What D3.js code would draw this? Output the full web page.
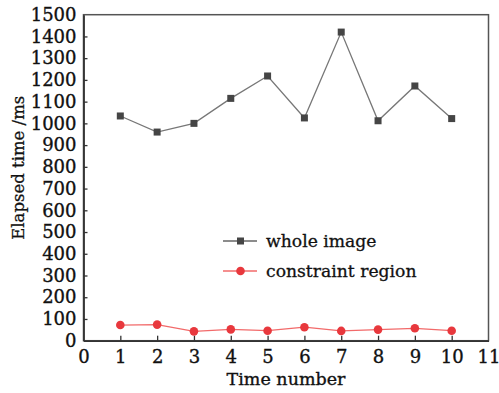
<!DOCTYPE html>
<html><head><meta charset="utf-8">
<script src="https://cdn.jsdelivr.net/npm/d3@7"></script>
<style>body{margin:0;background:#fff}svg{display:block}</style>
</head><body>
<script>
const timeNumbers = [1,2,3,4,5,6,7,8,9,10];
const wholeImage = [1034,960,1000,1115,1218,1025,1420,1012,1172,1022];
const constraintRegion = [72,74,43,52,46,62,45,51,57,46];
const xTicks = [0,1,2,3,4,5,6,7,8,9,10,11];
const yTicks = [0,100,200,300,400,500,600,700,800,900,1000,1100,1200,1300,1400,1500];
const seriesNames = ["whole image","constraint region"];

const W=499,H=393;
const m={l:83.5,t:14.7,r:W-488.5,b:H-340.7};
const svg=d3.select("body").append("svg").attr("width",W).attr("height",H);
const x=d3.scaleLinear().domain([0,11]).range([m.l,W-m.r]);
const y=d3.scaleLinear().domain([0,1500]).range([H-m.b,m.t]);
const font="'DejaVu Serif', serif";
const axisCol="#333";
const txt="#111";

// frame
svg.append("rect").attr("x",x(0)).attr("y",y(1500)).attr("width",x(11)-x(0)).attr("height",y(0)-y(1500))
  .attr("fill","none").attr("stroke","#555").attr("stroke-width",1.5);

const xAxis=svg.append("g").attr("transform",`translate(0,${y(0)})`)
  .call(d3.axisBottom(x).tickValues(xTicks).tickSizeInner(-5).tickSizeOuter(0).tickPadding(10).tickFormat(d3.format("d")));
const yAxis=svg.append("g").attr("transform",`translate(${x(0)},0)`)
  .call(d3.axisLeft(y).tickValues(yTicks).tickSizeInner(-4).tickSizeOuter(0).tickPadding(7).tickFormat(d3.format("d")));
[xAxis,yAxis].forEach(g=>{
  g.select(".domain").attr("stroke",axisCol).attr("stroke-width",1.8);
  g.selectAll(".tick line").attr("stroke",axisCol).attr("stroke-width",1.3);
  g.selectAll("text").attr("font-family",font).attr("font-size",18).attr("fill",txt)
    .attr("stroke",txt).attr("stroke-width",0.35);
});
xAxis.selectAll(".tick").filter(d=>d===0||d===11).select("line").remove();
yAxis.selectAll(".tick").filter(d=>d===0||d===1500).select("line").remove();

// axis titles
svg.append("text").attr("x",(x(0)+x(11))/2).attr("y",385).attr("text-anchor","middle")
  .attr("font-family",font).attr("font-size",17.5).attr("fill",txt).attr("stroke",txt).attr("stroke-width",0.35).text("Time number");
svg.append("text").attr("transform",`translate(24,${(y(0)+y(1500))/2-10}) rotate(-90)`).attr("text-anchor","middle")
  .attr("font-family",font).attr("font-size",16.5).attr("fill",txt).attr("stroke",txt).attr("stroke-width",0.3).text("Elapsed time /ms");

const line=d3.line().x((d,i)=>x(timeNumbers[i])).y(d=>y(d));
// whole image
svg.append("path").datum(wholeImage).attr("d",line).attr("fill","none").attr("stroke","#777").attr("stroke-width",1.3);
svg.selectAll(".sq").data(wholeImage).join("rect").attr("class","sq")
  .attr("x",(d,i)=>x(timeNumbers[i])-3.5).attr("y",d=>y(d)-3.5).attr("width",7).attr("height",7).attr("fill","#454545");
// constraint region
svg.append("path").datum(constraintRegion).attr("d",line).attr("fill","none").attr("stroke","#f26a6a").attr("stroke-width",1.3);
svg.selectAll(".ci").data(constraintRegion).join("circle").attr("class","ci")
  .attr("cx",(d,i)=>x(timeNumbers[i])).attr("cy",d=>y(d)).attr("r",4.3).attr("fill","#e8383d");

// legend
const lg=svg.append("g");
const ly=[241,271];
lg.append("line").attr("x1",223).attr("x2",257).attr("y1",ly[0]).attr("y2",ly[0]).attr("stroke","#666").attr("stroke-width",1.3);
lg.append("rect").attr("x",240.5-3.5).attr("y",ly[0]-3.5).attr("width",7).attr("height",7).attr("fill","#454545");
lg.append("line").attr("x1",223).attr("x2",257).attr("y1",ly[1]).attr("y2",ly[1]).attr("stroke","#f26a6a").attr("stroke-width",1.3);
lg.append("circle").attr("cx",240.5).attr("cy",ly[1]).attr("r",4.3).attr("fill","#e8383d");
seriesNames.forEach((n,i)=>lg.append("text").attr("x",266).attr("y",ly[i]+5.5)
  .attr("font-family",font).attr("font-size",17.2).attr("fill",txt).attr("stroke",txt).attr("stroke-width",0.3).text(n));
</script>
</body></html>
